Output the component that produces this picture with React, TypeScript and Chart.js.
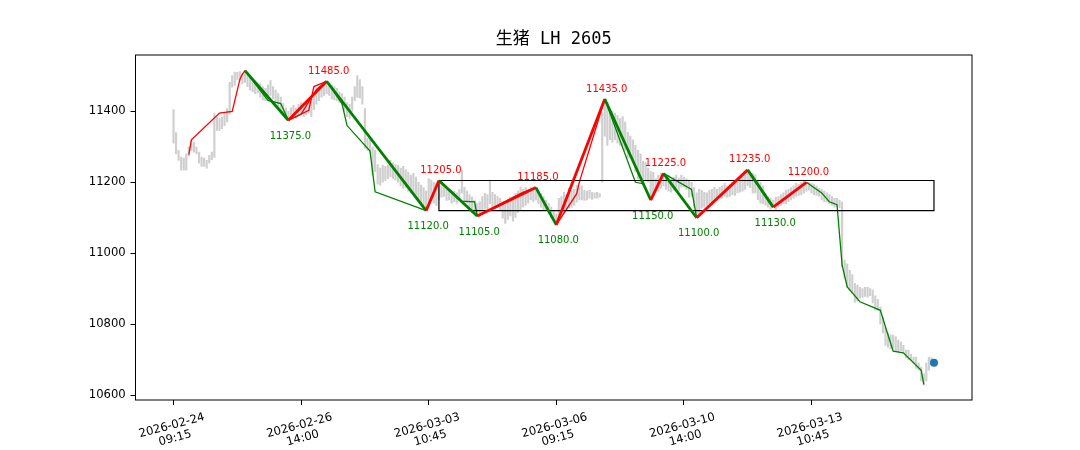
import React, { useEffect, useRef } from 'react';
import { Chart, registerables } from 'chart.js';

Chart.register(...registerables);

const TITLE = '生猪 LH 2605';

const X_TICK_POS = [0, 50, 100, 150, 200, 250];
const X_TICK_LABELS = [
  ['2026-02-24', '09:15'],
  ['2026-02-26', '14:00'],
  ['2026-03-03', '10:45'],
  ['2026-03-06', '09:15'],
  ['2026-03-10', '14:00'],
  ['2026-03-13', '10:45'],
];
const Y_TICKS = [10600, 10800, 11000, 11200, 11400];

// candle high / low, one per bar index
const CANDLE_HIGH = [
  11405, 11340, 11290, 11271, 11268, 11280, 11300, 11318, 11313, 11299,
  11285, 11271, 11268, 11262, 11276, 11285, 11394, 11384, 11380, 11384,
  11393, 11408, 11482, 11501, 11511, 11510, 11512, 11505, 11515, 11505,
  11497, 11490, 11487, 11480, 11478, 11470, 11465, 11475, 11487, 11470,
  11460, 11450, 11440, 11422, 11410, 11400, 11410, 11417, 11410, 11420,
  11425, 11425, 11430, 11437, 11435, 11445, 11459, 11470, 11478, 11482,
  11485, 11480, 11475, 11470, 11465, 11455, 11450, 11440, 11425, 11420,
  11440, 11470, 11501, 11490, 11470, 11408, 11324, 11320, 11299, 11290,
  11250, 11240, 11248, 11245, 11250, 11262, 11255, 11250, 11248, 11240,
  11245, 11235, 11228, 11220, 11225, 11215, 11200, 11192, 11185, 11175,
  11210, 11206, 11200, 11197, 11205, 11206, 11195, 11186, 11180, 11177,
  11175, 11170, 11180, 11234, 11186, 11175, 11165, 11158, 11150, 11140,
  11145, 11160, 11169, 11165, 11206, 11172, 11165, 11160, 11155, 11145,
  11140, 11150, 11158, 11160, 11169, 11175, 11186, 11180, 11186, 11180,
  11186, 11182, 11185, 11175, 11169, 11160, 11150, 11141, 11130, 11120,
  11110, 11155, 11160, 11172, 11165, 11183, 11175, 11180, 11192, 11185,
  11190, 11177, 11175, 11177, 11172, 11170, 11172, 11168, 11397, 11435,
  11425, 11408, 11400, 11395, 11389, 11380, 11385, 11370, 11341, 11330,
  11320, 11304, 11290, 11280, 11260, 11256, 11240, 11230, 11228, 11210,
  11220, 11225, 11225, 11215, 11220, 11210, 11215, 11220, 11212, 11220,
  11215, 11210, 11206, 11200, 11186, 11170, 11180, 11177, 11172, 11170,
  11177, 11180, 11186, 11180, 11186, 11190, 11197, 11190, 11195, 11200,
  11206, 11200, 11210, 11214, 11220, 11235, 11225, 11225, 11220, 11206,
  11200, 11190, 11169, 11160, 11155, 11150, 11158, 11160, 11165, 11170,
  11177, 11180, 11185, 11190, 11197, 11195, 11200, 11206, 11200, 11200,
  11197, 11195, 11190, 11183, 11180, 11175, 11170, 11165, 11160, 11155,
  11155, 11150, 11144, 10980, 10970, 10952, 10940, 10915, 10910, 10904,
  10900, 10904, 10904, 10900, 10896, 10880, 10870, 10848, 10820, 10790,
  10775, 10770, 10769, 10765, 10755, 10750, 10740, 10727, 10727, 10715,
  10707, 10707, 10690, 10679, 10660, 10690, 10707, 10705,
];
const CANDLE_LOW = [
  11310, 11280, 11262, 11234, 11234, 11234, 11275, 11290, 11285, 11280,
  11254, 11245, 11245, 11240, 11254, 11264, 11270, 11346, 11346, 11351,
  11360, 11370, 11393, 11468, 11473, 11490, 11485, 11478, 11482, 11470,
  11460, 11455, 11450, 11452, 11440, 11432, 11430, 11440, 11445, 11435,
  11425, 11410, 11395, 11390, 11378, 11375, 11378, 11385, 11380, 11388,
  11392, 11385, 11390, 11395, 11385, 11405, 11420, 11430, 11440, 11445,
  11450, 11445, 11435, 11432, 11430, 11425, 11420, 11400, 11385, 11380,
  11400, 11430, 11440, 11437, 11420, 11296, 11290, 11285, 11220, 11230,
  11195, 11192, 11200, 11205, 11210, 11215, 11210, 11206, 11200, 11190,
  11183, 11185, 11175, 11170, 11165, 11163, 11150, 11140, 11135, 11120,
  11145, 11150, 11141, 11135, 11150, 11158, 11160, 11149, 11150, 11141,
  11145, 11141, 11150, 11169, 11145, 11141, 11130, 11120, 11113, 11105,
  11105, 11121, 11125, 11121, 11140, 11130, 11127, 11130, 11120, 11099,
  11084, 11095, 11105, 11090, 11101, 11115, 11121, 11130, 11135, 11141,
  11150, 11145, 11150, 11140, 11130, 11121, 11121, 11110, 11100, 11093,
  11080, 11099, 11110, 11113, 11120, 11127, 11130, 11135, 11144, 11150,
  11150, 11149, 11150, 11155, 11152, 11155, 11155, 11158, 11200, 11330,
  11304, 11320, 11313, 11320, 11310, 11304, 11300, 11290, 11268, 11270,
  11260, 11230, 11210, 11200, 11200, 11205, 11200, 11150, 11163, 11170,
  11175, 11183, 11190, 11180, 11175, 11172, 11178, 11180, 11175, 11186,
  11186, 11180, 11158, 11160, 11130, 11100, 11110, 11127, 11130, 11135,
  11140, 11145, 11149, 11150, 11155, 11155, 11160, 11158, 11160, 11165,
  11163, 11170, 11172, 11175, 11180, 11190, 11185, 11169, 11170, 11150,
  11141, 11140, 11135, 11130, 11125, 11130, 11121, 11130, 11135, 11140,
  11140, 11145, 11150, 11155, 11160, 11163, 11165, 11169, 11175, 11178,
  11170, 11165, 11163, 11160, 11150, 11145, 11144, 11140, 11135, 11130,
  11132, 11128, 10961, 10930, 10905, 10895, 10887, 10862, 10865, 10873,
  10875, 10878, 10876, 10880, 10860, 10839, 10839, 10800, 10775, 10740,
  10735, 10730, 10732, 10725, 10721, 10725, 10720, 10705, 10699, 10700,
  10690, 10675, 10670, 10640, 10628, 10640, 10670, 10685,
];

// main strokes (pivot index / pivot price)
const STROKE_X = [28, 45, 60, 99, 104, 119, 142, 150, 169, 187, 192, 205, 225, 235, 248];
const STROKE_Y = [11515, 11375, 11485, 11120, 11205, 11105, 11185, 11080, 11435, 11150, 11225, 11100, 11235, 11130, 11200];

// lower-level segments: [index, price] vertices
const THIN_RED = [
  [[6, 11278], [7, 11320], [18, 11395], [23, 11400], [26, 11490], [27, 11505], [28, 11515]],
  [[45, 11375], [53, 11403], [55, 11470], [60, 11485]],
  [[45, 11375], [50, 11392], [56, 11462], [60, 11485]],
  [[119, 11105], [131, 11150], [136, 11168], [142, 11185]],
  [[119, 11105], [129, 11140], [137, 11172], [142, 11185]],
  [[150, 11080], [158, 11168], [159, 11200], [169, 11435]],
];
const THIN_GREEN = [
  [[28, 11515], [37, 11431], [42, 11422], [45, 11375]],
  [[60, 11485], [66, 11422], [68, 11360], [77, 11288], [79, 11173], [99, 11120]],
  [[104, 11205], [113, 11147], [118, 11145], [119, 11105]],
  [[169, 11435], [181, 11200], [184, 11196], [187, 11150]],
  [[192, 11225], [203, 11180], [205, 11100]],
  [[248, 11200], [254, 11170], [257, 11145], [260, 11137], [262, 10966], [264, 10905], [269, 10863], [277, 10839], [279, 10792], [282, 10724], [286, 10719], [293, 10670], [294, 10630]],
];

const ZONE_X = [104, 298];
const ZONE_Y = [11120, 11205];

const LAST_X = 298;
const LAST_PRICE = 10691;

const X_MIN = -14.9;
const X_MAX = 312.9;
const Y_MIN = 10586;
const Y_MAX = 11559;

const FONT = '"DejaVu Sans", sans-serif';

export default function App() {
  const ref = useRef<HTMLCanvasElement | null>(null);

  useEffect(() => {
    document.body.style.margin = '0';
    const canvas = ref.current;
    if (!canvas) return;

    const candleData = CANDLE_HIGH.map((h, i) => ({ x: i, y: [CANDLE_LOW[i], h] }));
    const strokeData = STROKE_X.map((x, i) => ({ x, y: STROKE_Y[i] }));
    const toPts = (arr: number[][]) => arr.map((p) => ({ x: p[0], y: p[1] }));

    const thinSets: any[] = [];
    THIN_RED.forEach((seg) =>
      thinSets.push({ type: 'line', data: toPts(seg), borderColor: 'red', borderWidth: 1.3, pointRadius: 0, tension: 0, order: 5 })
    );
    THIN_GREEN.forEach((seg) =>
      thinSets.push({ type: 'line', data: toPts(seg), borderColor: 'green', borderWidth: 1.3, pointRadius: 0, tension: 0, order: 5 })
    );

    const zoneData = [
      { x: ZONE_X[0], y: ZONE_Y[1] },
      { x: ZONE_X[1], y: ZONE_Y[1] },
      { x: ZONE_X[1], y: ZONE_Y[0] },
      { x: ZONE_X[0], y: ZONE_Y[0] },
      { x: ZONE_X[0], y: ZONE_Y[1] },
    ];

    const framePlugin = {
      id: 'frame',
      afterDraw(chart: any) {
        const { ctx, chartArea: a } = chart;
        ctx.save();
        ctx.strokeStyle = '#000';
        ctx.lineWidth = 1;
        ctx.strokeRect(a.left, a.top, a.right - a.left, a.bottom - a.top);
        ctx.restore();
      },
    };

    const labelPlugin = {
      id: 'pivotLabels',
      afterDatasetsDraw(chart: any) {
        const { ctx, scales } = chart;
        ctx.save();
        ctx.font = '10px ' + FONT;
        ctx.textAlign = 'center';
        ctx.textBaseline = 'middle';
        for (let i = 1; i < STROKE_X.length; i++) {
          const px = scales.x.getPixelForValue(STROKE_X[i]);
          const py = scales.y.getPixelForValue(STROKE_Y[i]);
          const isTop = STROKE_Y[i] > STROKE_Y[i - 1];
          ctx.fillStyle = isTop ? 'red' : 'green';
          ctx.fillText(STROKE_Y[i].toFixed(1), px + 2, isTop ? py - 10 : py + 16);
        }
        ctx.restore();
      },
    };

    const xLabelPlugin = {
      id: 'xLabels',
      afterDraw(chart: any) {
        const { ctx, scales } = chart;
        ctx.save();
        ctx.font = '11.6px ' + FONT;
        ctx.fillStyle = '#000';
        ctx.textAlign = 'center';
        ctx.textBaseline = 'middle';
        X_TICK_POS.forEach((v, i) => {
          const px = scales.x.getPixelForValue(v);
          ctx.save();
          ctx.translate(px, 432);
          ctx.rotate((-15 * Math.PI) / 180);
          ctx.fillText(X_TICK_LABELS[i][0], 0, -6.5);
          ctx.fillText(X_TICK_LABELS[i][1], 0, 6.5);
          ctx.restore();
        });
        ctx.restore();
      },
    };

    const titlePlugin = {
      id: 'titleText',
      afterDraw(chart: any) {
        const { ctx, chartArea: a } = chart;
        ctx.save();
        ctx.font = '17px "DejaVu Sans Mono", "Noto Sans CJK SC", sans-serif';
        ctx.fillStyle = '#000';
        ctx.textAlign = 'center';
        ctx.textBaseline = 'middle';
        ctx.fillText(TITLE, (a.left + a.right) / 2, 40);
        ctx.restore();
      },
    };

    const chart = new Chart(canvas, {
      type: 'bar',
      data: {
        datasets: [
          {
            type: 'bar',
            data: candleData as any,
            backgroundColor: '#cfcfcf',
            borderWidth: 0,
            barThickness: 1.5,
            order: 10,
          },
          ...thinSets,
          {
            type: 'line',
            data: zoneData,
            borderColor: '#000',
            borderWidth: 1.2,
            pointRadius: 0,
            tension: 0,
            order: 4,
          },
          {
            type: 'line',
            data: strokeData,
            borderColor: 'green',
            borderWidth: 2.8,
            borderJoinStyle: 'round',
            pointRadius: 0,
            tension: 0,
            order: 2,
            segment: {
              borderColor: (c: any) => (c.p1.parsed.y >= c.p0.parsed.y ? 'red' : 'green'),
            },
          },
          {
            type: 'scatter',
            data: [{ x: LAST_X, y: LAST_PRICE }],
            backgroundColor: '#1f77b4',
            borderWidth: 0,
            pointRadius: 4,
            order: 1,
          },
        ] as any,
      },
      options: {
        responsive: false,
        animation: false,
        events: [],
        layout: { padding: { top: 55, right: 108, left: 0, bottom: 0 } },
        plugins: {
          legend: { display: false },
          tooltip: { enabled: false },
          title: { display: false },
        },
        scales: {
          x: {
            type: 'linear',
            min: X_MIN,
            max: X_MAX,
            offset: false,
            border: { display: false },
            grid: { offset: false, drawOnChartArea: false, drawTicks: true, tickLength: 5, tickColor: '#000', tickWidth: 1 },
            ticks: { display: false },
            afterBuildTicks: (s: any) => {
              s.ticks = X_TICK_POS.map((v) => ({ value: v }));
            },
            afterFit: (s: any) => {
              s.height = 50;
            },
          },
          y: {
            type: 'linear',
            min: Y_MIN,
            max: Y_MAX,
            border: { display: false },
            grid: { offset: false, drawOnChartArea: false, drawTicks: true, tickLength: 5, tickColor: '#000', tickWidth: 1 },
            ticks: {
              color: '#000',
              font: { family: FONT, size: 11.6 },
              padding: 4.8,
              callback: (v: any) => String(v),
            },
            afterBuildTicks: (s: any) => {
              s.ticks = Y_TICKS.map((v) => ({ value: v }));
            },
            afterFit: (s: any) => {
              s.width = 135.5;
            },
          },
        },
      } as any,
      plugins: [framePlugin, labelPlugin, xLabelPlugin, titlePlugin],
    });

    return () => chart.destroy();
  }, []);

  return <canvas ref={ref} width={1080} height={450} style={{ display: 'block' }} />;
}
